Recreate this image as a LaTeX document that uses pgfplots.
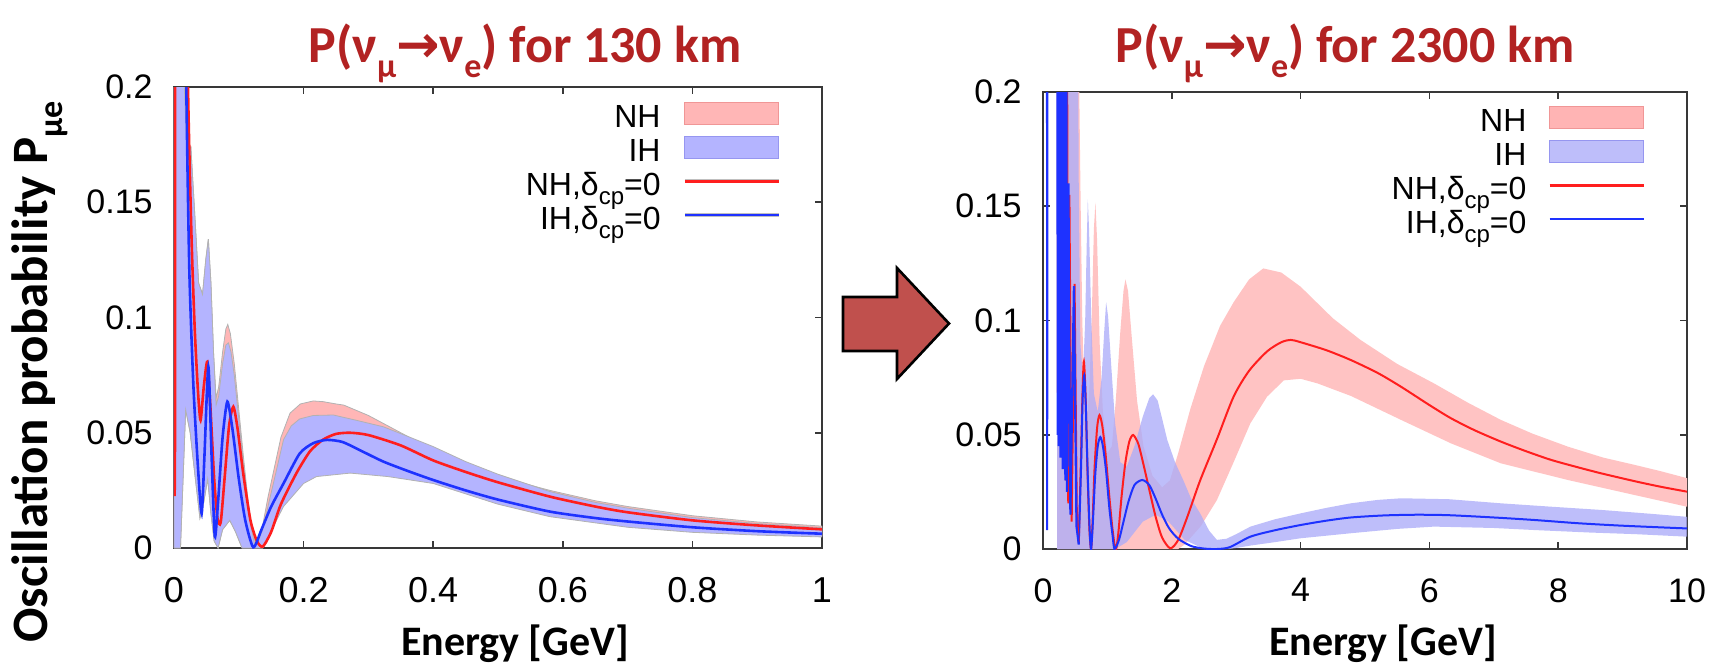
\documentclass[border=0pt]{standalone}
\usepackage{pgfplots}
\pgfplotsset{compat=1.18}
\usepackage{fontspec}
\setmainfont{Liberation Sans}
\newfontfamily\calib{Carlito}
\newfontfamily\djv{DejaVu Sans}
\definecolor{titlered}{RGB}{178,34,34}
\definecolor{nhfillL}{RGB}{255,182,182}
\definecolor{ihfillL}{RGB}{180,180,255}
\definecolor{nhfillR}{RGB}{255,195,195}
\definecolor{ihfillR}{RGB}{172,172,248}
\definecolor{nhedge}{RGB}{240,150,150}
\definecolor{ihedge}{RGB}{150,150,240}
\definecolor{nhline}{RGB}{255,30,30}
\definecolor{ihline}{RGB}{30,50,255}
\definecolor{arrowred}{RGB}{192,80,77}
\newcommand\tsub[1]{\raisebox{-0.3em}{\fontsize{17}{17}\selectfont #1}}
\newcommand\lsub[1]{\raisebox{-0.28em}{\fontsize{12}{12}\selectfont #1}}
\newcommand\lgd[1]{\rule[-4.05pt]{0pt}{19.5pt}\smash{#1}}
\pgfplotsset{
  myaxis/.style={
    scale only axis, clip=true,
    ymin=0, ymax=0.2,
    ytick={0,0.05,0.1,0.15,0.2},
    tick align=inside,
    major tick length=3.5pt,
    axis line style={black!78, line width=0.9pt},
    major tick style={black!78, line width=0.8pt},
    tick label style={font=\fontsize{17}{17}\selectfont, inner sep=0pt},
    yticklabel style={xshift=-10.5pt, /pgf/number format/fixed},
    xticklabel style={yshift=-14.5pt, /pgf/number format/fixed, anchor=north},
    /pgf/number format/assume math mode=true,
    unbounded coords=jump,
    legend plot pos=right,
    legend cell align=right,
    legend style={draw=none, fill=none, inner sep=0pt, outer sep=0pt,
      font=\fontsize{16}{16}\selectfont,
      /tikz/column sep=11pt, /tikz/row sep=0pt,
      nodes={inner sep=0pt, outer sep=0pt}},
  },
}
\begin{document}
\begin{tikzpicture}[x=1pt,y=1pt]
\path[use as bounding box] (0,0) rectangle (857,-332.5);

% ---------------- Left panel: 130 km ----------------
\begin{axis}[myaxis,
  at={(87pt,-274pt)}, anchor=south west,
  width=324pt, height=230.5pt,
  xmin=0, xmax=1,
  xtick={0,0.2,0.4,0.6,0.8,1},
  xticklabel style={font=\fontsize{18}{18}\selectfont},
  legend style={at={(axis description cs:1,1)}, anchor=north east, xshift=-20.5pt, yshift=-4.75pt},
]
% NH band
\addplot[fill=nhfillL, draw=black!30, line width=0.4pt,
  legend image code/.code={\fill[nhfillL, draw=nhedge, line width=0.5pt] (0pt,-5.5pt) rectangle (47pt,5.5pt);}]
coordinates {
(0.000,0.300) (0.012,0.300) (0.016,0.200) (0.020,0.172) (0.026,0.174) (0.032,0.145) (0.038,0.115) (0.044,0.110) (0.049,0.125) (0.053,0.134) (0.057,0.115) (0.061,0.085) (0.065,0.065) (0.069,0.070) (0.075,0.085) (0.080,0.095) (0.083,0.097) (0.087,0.093) (0.093,0.080) (0.100,0.060) (0.107,0.040) (0.113,0.024) (0.119,0.010) (0.125,0.003) (0.131,0.004) (0.137,0.010) (0.145,0.022) (0.155,0.035) (0.165,0.048) (0.179,0.0585) (0.195,0.0625) (0.215,0.0638) (0.230,0.0635) (0.250,0.0625) (0.262,0.062) (0.300,0.0575) (0.350,0.050) (0.400,0.0425) (0.450,0.036) (0.500,0.031) (0.580,0.025) (0.650,0.0205) (0.700,0.0180) (0.800,0.0140) (0.900,0.0113) (1.000,0.0095)
(1.000,0.0052) (0.900,0.0060) (0.800,0.0072) (0.700,0.0094) (0.580,0.0140) (0.500,0.0195) (0.400,0.0285) (0.330,0.0315) (0.272,0.0330) (0.220,0.0315) (0.200,0.0285) (0.169,0.0185) (0.158,0.012) (0.145,0.004) (0.137,0.0) (0.105,0.0) (0.095,0.007) (0.086,0.012) (0.075,0.008) (0.068,0.0) (0.062,0.003) (0.057,0.015) (0.052,0.030) (0.046,0.020) (0.040,0.013) (0.033,0.030) (0.025,0.050) (0.018,0.060) (0.010,0.0) (0.000,0.0)
} -- cycle;
\addlegendentry{\lgd{NH}}
% IH band
\addplot[fill=ihfillL, draw=black!30, line width=0.4pt,
  legend image code/.code={\fill[ihfillL, draw=ihedge, line width=0.5pt] (0pt,-5.5pt) rectangle (47pt,5.5pt);}]
coordinates {
(0.000,0.300) (0.012,0.300) (0.016,0.200) (0.020,0.172) (0.026,0.174) (0.032,0.145) (0.038,0.115) (0.044,0.110) (0.049,0.125) (0.053,0.134) (0.057,0.115) (0.061,0.085) (0.065,0.062) (0.069,0.066) (0.075,0.080) (0.080,0.088) (0.084,0.089) (0.088,0.085) (0.093,0.075) (0.100,0.056) (0.107,0.037) (0.113,0.022) (0.119,0.009) (0.124,0.002) (0.130,0.003) (0.137,0.008) (0.145,0.018) (0.155,0.030) (0.169,0.047) (0.181,0.053) (0.194,0.056) (0.215,0.0575) (0.246,0.0577) (0.280,0.0555) (0.323,0.0526) (0.360,0.0485) (0.400,0.044) (0.450,0.0375) (0.500,0.0320) (0.580,0.0245) (0.650,0.0198) (0.700,0.0173) (0.800,0.0132) (0.900,0.0106) (1.000,0.0088)
(1.000,0.0048) (0.900,0.0056) (0.800,0.0068) (0.700,0.0090) (0.580,0.0136) (0.500,0.0190) (0.400,0.0280) (0.330,0.0310) (0.272,0.0325) (0.220,0.0310) (0.200,0.0280) (0.169,0.0180) (0.158,0.012) (0.145,0.004) (0.137,0.0) (0.105,0.0) (0.095,0.007) (0.086,0.012) (0.075,0.008) (0.068,0.0) (0.062,0.003) (0.057,0.015) (0.052,0.030) (0.046,0.020) (0.040,0.013) (0.033,0.030) (0.025,0.050) (0.018,0.060) (0.010,0.0) (0.000,0.0)
} -- cycle;
\addlegendentry{\lgd{IH}}
% NH line
\addplot[nhline, line width=1.3pt, smooth, tension=0.4,
  legend image code/.code={\draw[black!25, line width=2.2pt] (0pt,0pt) -- (47pt,0pt); \draw[nhline, line width=1.3pt] (0pt,0pt) -- (47pt,0pt);}]
coordinates {
(0.0005,0.024) (0.0015,0.045) (0.003,0.300) (0.017,0.300) (0.0216,0.200) (0.027,0.135) (0.032,0.095) (0.037,0.068) (0.041,0.0555) (0.046,0.070) (0.0514,0.0808) (0.056,0.062) (0.062,0.030) (0.067,0.013) (0.072,0.011) (0.078,0.030) (0.085,0.053) (0.0916,0.0613) (0.098,0.052) (0.107,0.032) (0.118,0.012) (0.128,0.003) (0.137,0.0006) (0.150,0.007) (0.165,0.019) (0.189,0.0325) (0.210,0.042) (0.230,0.047) (0.250,0.0495) (0.272,0.0500) (0.300,0.0490) (0.350,0.0445) (0.400,0.0380) (0.450,0.0330) (0.500,0.0285) (0.580,0.0223) (0.650,0.0180) (0.700,0.0155) (0.800,0.0120) (0.900,0.0098) (1.000,0.0081)
};
\addlegendentry{\lgd{NH,δ\lsub{cp}=0}}
% IH line
\addplot[ihline, line width=1.3pt, smooth, tension=0.4,
  legend image code/.code={\draw[black!25, line width=2.2pt] (0pt,0pt) -- (47pt,0pt); \draw[ihline, line width=1.3pt] (0pt,0pt) -- (47pt,0pt);}]
coordinates {
(0.0005,0.300) (0.016,0.300) (0.019,0.200) (0.0237,0.120) (0.030,0.070) (0.037,0.035) (0.0427,0.015) (0.047,0.040) (0.053,0.0787) (0.058,0.040) (0.063,0.005) (0.068,0.020) (0.075,0.048) (0.0823,0.0635) (0.090,0.052) (0.100,0.030) (0.110,0.012) (0.1224,0.0003) (0.135,0.008) (0.150,0.018) (0.169,0.028) (0.194,0.041) (0.215,0.0455) (0.236,0.0469) (0.260,0.0460) (0.290,0.0420) (0.323,0.0375) (0.360,0.0335) (0.400,0.0295) (0.450,0.0250) (0.500,0.0210) (0.580,0.0158) (0.650,0.0130) (0.700,0.0115) (0.800,0.0090) (0.900,0.0073) (1.000,0.0062)
};
\addlegendentry{\lgd{IH,δ\lsub{cp}=0}}
\end{axis}

% ---------------- Right panel: 2300 km ----------------
\begin{axis}[myaxis,
  at={(521.5pt,-274.5pt)}, anchor=south west,
  width=322pt, height=228.5pt,
  xmin=0, xmax=10,
  xtick={0,2,4,6,8,10},
  legend style={at={(axis description cs:1,1)}, anchor=north east, xshift=-21pt, yshift=-4.25pt},
]
% NH band
\addplot[fill=nhfillR, draw=none,
  legend image code/.code={\fill[nhfillR!92!red, draw=nhedge, line width=0.5pt] (0pt,-5.5pt) rectangle (47pt,5.5pt);}]
coordinates {
(0.22,0.30) (0.53,0.30) (0.55,0.23) (0.566,0.194) (0.585,0.15) (0.61,0.10) (0.64,0.07) (0.68,0.055) (0.72,0.07) (0.76,0.105) (0.79,0.14) (0.814,0.1516) (0.84,0.135) (0.88,0.09) (0.93,0.06) (1.00,0.042) (1.07,0.045) (1.13,0.065) (1.20,0.095) (1.25,0.113) (1.28,0.118) (1.32,0.113) (1.38,0.092) (1.46,0.065) (1.56,0.045) (1.70,0.032) (1.85,0.027) (1.97,0.030) (2.10,0.042) (2.29,0.0615) (2.50,0.080) (2.75,0.0977) (2.96,0.108) (3.20,0.118) (3.42,0.1228) (3.70,0.1210) (4.00,0.1148) (4.50,0.1010) (4.93,0.0915) (5.50,0.0810) (6.07,0.0725) (6.60,0.0640) (7.11,0.0565) (7.60,0.0505) (8.15,0.0448) (8.70,0.0400) (9.19,0.0368) (9.60,0.0340) (10.0,0.0310)
(10.0,0.0185) (9.19,0.0236) (8.15,0.0302) (7.11,0.0375) (6.33,0.0463) (5.56,0.0565) (4.78,0.0670) (4.26,0.0725) (4.00,0.0745) (3.74,0.0738) (3.48,0.0667) (3.22,0.0550) (2.96,0.0380) (2.70,0.0214) (2.45,0.0100) (2.20,0.0020) (2.10,0.0) (0.22,0.0)
} -- cycle;
\addlegendentry{\lgd{NH}}
% IH band
\addplot[fill=ihfillR, fill opacity=0.78, draw=none,
  legend image code/.code={\fill[ihfillR, draw=ihedge, line width=0.5pt] (0pt,-5.5pt) rectangle (47pt,5.5pt);}]
coordinates {
(0.22,0.30) (0.53,0.30) (0.555,0.16) (0.58,0.09) (0.62,0.075) (0.655,0.10) (0.68,0.135) (0.696,0.153) (0.715,0.14) (0.75,0.10) (0.79,0.068) (0.85,0.060) (0.91,0.075) (0.95,0.095) (0.98,0.108) (1.01,0.102) (1.06,0.080) (1.12,0.055) (1.20,0.038) (1.30,0.036) (1.42,0.045) (1.55,0.058) (1.65,0.066) (1.71,0.0677) (1.78,0.065) (1.85,0.057) (1.93,0.0477) (2.05,0.038) (2.18,0.030) (2.30,0.022) (2.44,0.0156) (2.58,0.008) (2.70,0.004) (2.85,0.0045) (3.00,0.0065) (3.22,0.0098) (3.60,0.0130) (4.00,0.0156) (4.40,0.0180) (4.78,0.0200) (5.20,0.0215) (5.56,0.0222) (6.30,0.0218) (7.11,0.0200) (7.90,0.0185) (8.67,0.0171) (9.40,0.0155) (10.0,0.0141)
(10.0,0.0054) (9.2,0.0065) (8.5,0.0072) (7.63,0.0083) (7.0,0.0092) (6.07,0.0098) (5.5,0.0088) (4.78,0.0069) (4.00,0.0047) (3.60,0.0030) (3.22,0.0015) (2.90,0.0) (2.50,0.0) (2.20,0.004) (1.95,0.012) (1.75,0.015) (1.55,0.012) (1.30,0.003) (1.12,0.0) (0.22,0.0)
} -- cycle;
\addlegendentry{\lgd{IH}}
% NH line (smooth part)
\addplot[nhline, line width=1pt, smooth, tension=0.45,
  legend image code/.code={\draw[nhline, line width=1.3pt] (0pt,0pt) -- (47pt,0pt);}]
coordinates {
(0.555,0.003) (0.59,0.040) (0.615,0.070) (0.635,0.082) (0.66,0.068) (0.69,0.035) (0.72,0.009) (0.747,0.0) (0.77,0.012) (0.80,0.035) (0.84,0.053) (0.877,0.0586) (0.92,0.054) (0.97,0.042) (1.02,0.026) (1.07,0.011) (1.11,0.002) (1.136,0.0) (1.17,0.007) (1.22,0.023) (1.28,0.038) (1.34,0.047) (1.40,0.0499) (1.48,0.046) (1.56,0.037) (1.65,0.026) (1.75,0.014) (1.85,0.005) (1.977,0.0003) (2.10,0.004) (2.24,0.014) (2.44,0.030) (2.70,0.048) (2.96,0.0667) (3.20,0.078) (3.48,0.0865) (3.70,0.0905) (3.85,0.0915) (4.00,0.0905) (4.40,0.0870) (4.78,0.0827) (5.20,0.0770) (5.56,0.0710) (6.00,0.0630) (6.33,0.0573) (6.70,0.0520) (7.11,0.0470) (7.50,0.0428) (7.89,0.0390) (8.30,0.0358) (8.67,0.0331) (9.20,0.0296) (9.60,0.0272) (10.0,0.0251)
};
\addlegendentry{\lgd{NH,δ\lsub{cp}=0}}
% IH line (smooth part)
\addplot[ihline, line width=1pt, smooth, tension=0.45,
  legend image code/.code={\draw[ihline, line width=1.3pt] (0pt,0pt) -- (47pt,0pt);}]
coordinates {
(0.555,0.002) (0.59,0.035) (0.615,0.065) (0.64,0.076) (0.665,0.062) (0.695,0.032) (0.725,0.008) (0.747,0.0) (0.775,0.012) (0.81,0.032) (0.85,0.045) (0.89,0.049) (0.93,0.045) (0.98,0.034) (1.03,0.018) (1.08,0.006) (1.11,0.0) (1.18,0.004) (1.25,0.012) (1.33,0.021) (1.42,0.028) (1.54,0.0302) (1.65,0.028) (1.75,0.022) (1.85,0.015) (1.96,0.0090) (2.10,0.0045) (2.30,0.0013) (2.50,0.0002) (2.70,0.0) (2.90,0.0008) (3.22,0.0054) (3.60,0.0082) (4.00,0.0105) (4.40,0.0124) (4.78,0.0138) (5.30,0.0147) (5.80,0.0150) (6.30,0.0148) (7.00,0.0138) (7.63,0.0127) (8.30,0.0113) (9.00,0.0102) (10.0,0.0090)
};
\addlegendentry{\lgd{IH,δ\lsub{cp}=0}}
% dense low-energy oscillations
\addplot[nhline, line width=1pt, forget plot] coordinates {
(0.226,0.30) (0.233,0.06) (0.240,0.30) (0.247,0.055) (0.254,0.30) (0.261,0.05) (0.268,0.30) (0.276,0.05) (0.284,0.30) (0.292,0.045) (0.301,0.30) (0.310,0.045) (0.320,0.30) (0.330,0.04) (0.342,0.28) (0.355,0.03) (0.375,0.21) (0.392,0.02) (0.41,0.155) (0.445,0.012) (0.49,0.116) (0.525,0.015) (0.555,0.003)
};
\addplot[ihline, line width=1.1pt, forget plot] coordinates {
(0.222,0.30) (0.229,0.05) (0.236,0.30) (0.243,0.045) (0.250,0.30) (0.257,0.045) (0.264,0.30) (0.272,0.04) (0.280,0.30) (0.288,0.04) (0.296,0.30) (0.305,0.035) (0.314,0.30) (0.324,0.035) (0.335,0.30) (0.347,0.03) (0.360,0.26) (0.373,0.025) (0.395,0.16) (0.425,0.015) (0.48,0.115) (0.52,0.01) (0.555,0.002)
};
\addplot[ihline, line width=1pt, forget plot] coordinates {(0.060,0.30) (0.065,0.0083) (0.070,0.30)};
\end{axis}

% ---------------- Titles, labels, arrow ----------------
\node[anchor=base, text=titlered, font=\calib\bfseries\fontsize{26}{26}\selectfont] at (262.5,-31)
  {P(ν\tsub{μ}{\djv\bfseries →}ν\tsub{e}) for 130 km};
\node[anchor=base, text=titlered, font=\calib\bfseries\fontsize{26}{26}\selectfont] at (672.5,-31)
  {P(ν\tsub{μ}{\djv\bfseries →}ν\tsub{e}) for 2300 km};
\node[anchor=base, rotate=90, font=\calib\bfseries\fontsize{25.5}{25.5}\selectfont] at (23.5,-186)
  {Oscillation probability P\tsub{μe}};
\node[anchor=base, font=\calib\bfseries\fontsize{21}{21}\selectfont] at (257.5,-327.5) {Energy [GeV]};
\node[anchor=base, font=\calib\bfseries\fontsize{21}{21}\selectfont] at (691.5,-327.5) {Energy [GeV]};
\draw[fill=arrowred, draw=black, line width=1.3pt, line join=miter]
  (421.5,-148.5) -- (448.5,-148.5) -- (448.5,-134) -- (474.5,-161.75) -- (448.5,-189.5) -- (448.5,-175.5) -- (421.5,-175.5) -- cycle;
\end{tikzpicture}
\end{document}
